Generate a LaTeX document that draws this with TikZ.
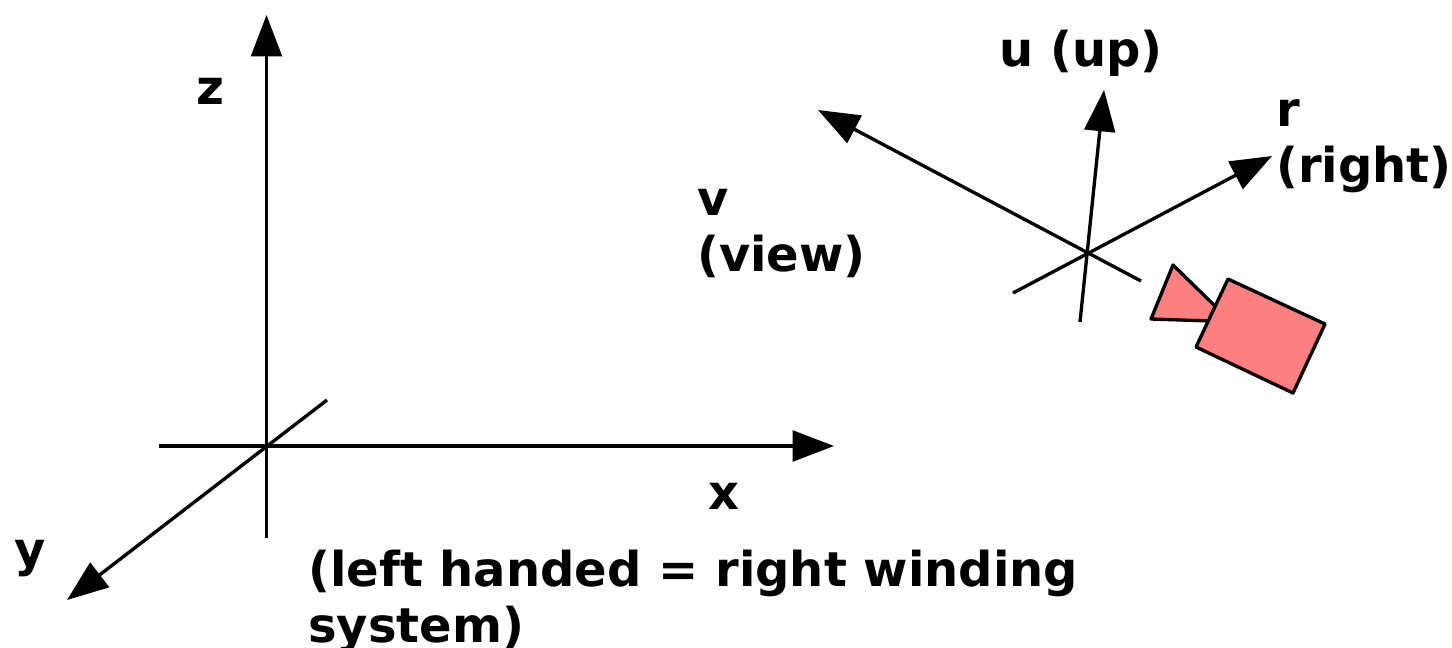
\documentclass[tikz,border=0pt]{standalone}
\usepackage{fontspec}
\setmainfont{DejaVu Sans}
\usepackage{xcolor}
\usetikzlibrary{arrows.meta}
\definecolor{mcam}{RGB}{255,128,128}
\tikzset{
  axisline/.style={line width=2.5pt, black},
  axisarrow/.style={axisline, -{Triangle[length=31pt, width=23pt]}},
  lbl/.style={font=\bfseries\fontsize{36pt}{42pt}\selectfont, inner sep=0pt, anchor=base west, align=left},
  campart/.style={draw=black, line width=2.5pt, fill=mcam, line join=round},
}
\begin{document}
\begin{tikzpicture}[x=0.75pt, y=-0.75pt]
  \useasboundingbox (0,0) rectangle (1452,647);
  % World axes
  \coordinate (zfoot) at (266.5,538);
  \coordinate (ztip) at (266.5,15);
  \coordinate (xfoot) at (159,446);
  \coordinate (xtip) at (834,446);
  \coordinate (yfoot) at (327,400);
  \coordinate (ytip) at (67,600);
  \draw[axisarrow] (zfoot) -- (ztip);
  \draw[axisarrow] (xfoot) -- (xtip);
  \draw[axisarrow] (yfoot) -- (ytip);
  \node[lbl] (zlabel) at (196,104) {z};
  \node[lbl] (xlabel) at (708,509) {x};
  \node[lbl] (ylabel) at (14,566) {y};
  \node[lbl] (note) at (308,642) {(left handed = right winding\\system)};
  % Camera axes
  \coordinate (rfoot) at (1013,293);
  \coordinate (rtip) at (1272,156);
  \coordinate (ufoot) at (1080,322);
  \coordinate (utip) at (1104,90);
  \coordinate (vfoot) at (1141,281);
  \coordinate (vtip) at (818,110);
  \draw[axisarrow] (rfoot) -- (rtip);
  \draw[axisarrow] (ufoot) -- (utip);
  \draw[axisarrow] (vfoot) -- (vtip);
  \node[lbl] (ulabel) at (999,66) {u (up)};
  \node[lbl] (rlabel) at (1276,182) {r\\(right)};
  \node[lbl] (vlabel) at (697,271) {v\\(view)};
  % Camera
  \draw[campart] (1173,265) -- (1216,307) -- (1211,321) -- (1151,319) -- cycle;
  \draw[campart] (1228,279) -- (1325,324) -- (1293,393) -- (1196,347) -- cycle;
\end{tikzpicture}
\end{document}
